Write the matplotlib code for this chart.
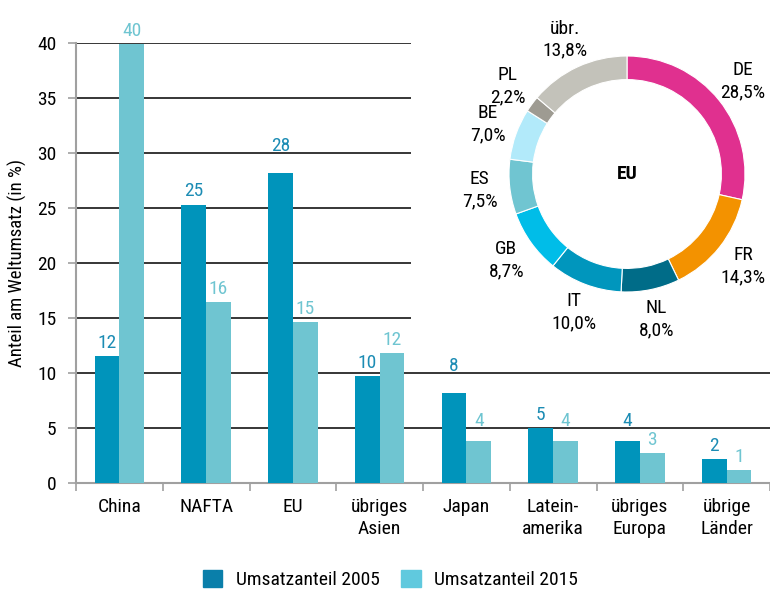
import matplotlib
matplotlib.use("Agg")
import matplotlib.pyplot as plt
import numpy as np
from matplotlib.patches import Patch

plt.rcParams['font.family'] = ['Roboto Condensed', 'DejaVu Sans Condensed', 'Liberation Sans Narrow', 'Roboto', 'DejaVu Sans']

# ---- data ----
categories = ["China", "NAFTA", "EU", "übriges\nAsien", "Japan", "Latein-\namerika", "übriges\nEuropa", "übrige\nLänder"]
share_2005 = [11.55, 25.3, 28.2, 9.75, 8.2, 5.0, 3.8, 2.2]
share_2015 = [39.9, 16.45, 14.6, 11.8, 3.8, 3.8, 2.7, 1.2]
labels_2005 = ["12", "25", "28", "10", "8", "5", "4", "2"]
labels_2015 = ["40", "16", "15", "12", "4", "4", "3", "1"]
series_names = ["Umsatzanteil 2005", "Umsatzanteil 2015"]
y_ticks = [0, 5, 10, 15, 20, 25, 30, 35, 40]

eu_countries = ["DE", "FR", "NL", "IT", "GB", "ES", "BE", "PL", "übr."]
eu_shares = [28.5, 14.3, 8.0, 10.0, 8.7, 7.5, 7.0, 2.2, 13.8]
eu_share_labels = ["28,5%", "14,3%", "8,0%", "10,0%", "8,7%", "7,5%", "7,0%", "2,2%", "13,8%"]

# ---- styles ----
c2005 = "#0094BB"
c2015 = "#6FC5D1"
leg2005 = "#0A7FAA"
leg2015 = "#60C9DE"
eu_colors = ["#E0308F", "#F39200", "#006C88", "#0096BD", "#00BDE8",
             "#70C5D1", "#B2EAFA", "#9E9B92", "#C3C2BA"]
gray = "#A0A0A0"
fs = 14

W, H = 770, 589
fig = plt.figure(figsize=(W / 100, H / 100), dpi=100)

ax_l, ax_b, ax_t = 76, 483, 43
ax = fig.add_axes([ax_l / W, (H - ax_b) / H, 1 - ax_l / W, (ax_b - ax_t) / H])

x = np.arange(len(categories))
bw = 0.285
b1 = ax.bar(x - bw / 2, share_2005, bw, color=c2005, zorder=3)
b2 = ax.bar(x + bw / 2, share_2015, bw, color=c2015, zorder=3)

grid_vals = y_ticks[1:]


def label_y(v):
    c = v + 1.2
    for g in grid_vals:
        if abs(c - g) < 0.65:
            c = g + 0.65
    return c


for bars, labs, col in ((b1, labels_2005, "#1C8CB4"), (b2, labels_2015, c2015)):
    for rect, lab in zip(bars, labs):
        ax.text(rect.get_x() + rect.get_width() / 2, label_y(rect.get_height()), lab,
                ha="center", va="center", color=col, fontsize=fs, zorder=4)

slot = 87.8
ax.set_xlim(-0.5, -0.5 + (W - ax_l) / slot)
ax.set_ylim(0, 40)
ax.set_yticks(y_ticks)
ax.set_yticklabels([str(v) for v in y_ticks], fontsize=fs)
for v in grid_vals:
    ax.axhline(v, color="black", lw=1.1, zorder=1)

ax.set_xticks(np.arange(len(categories) + 1) - 0.5)
ax.set_xticklabels([])
ax.set_xticks(x, minor=True)
ax.set_xticklabels(categories, minor=True, fontsize=fs, linespacing=1.3)
ax.tick_params(axis="x", which="minor", length=0, pad=11)
ax.tick_params(axis="x", which="major", length=6, color=gray, width=1.2, direction="out")
ax.tick_params(axis="y", length=6, color=gray, width=1.2, pad=8)

for s in ["top", "right"]:
    ax.spines[s].set_visible(False)
for s in ["left", "bottom"]:
    ax.spines[s].set_color(gray)
    ax.spines[s].set_linewidth(1.5)

ax.set_ylabel("Anteil am Weltumsatz (in %)", fontsize=fs - 0.5)
ax.yaxis.set_label_coords((27 - ax_l) / (W - ax_l), 0.5)

handles = [Patch(color=leg2005), Patch(color=leg2015)]
fig.legend(handles, series_names, loc="lower center", bbox_to_anchor=(0.507, -0.03),
           ncol=2, frameon=False, fontsize=fs, handlelength=1.0, handleheight=1.0,
           columnspacing=1.1, handletextpad=0.7)

# ---- donut inset ----
bx0, by1 = 411, 340
ax2 = fig.add_axes([bx0 / W, (H - by1) / H, (W - bx0) / W, by1 / H])
cx, cy, R = 627 - bx0, by1 - 174, 118
wedges, _ = ax2.pie(eu_shares, colors=eu_colors, startangle=90, counterclock=False,
                    radius=R, center=(cx, cy),
                    wedgeprops=dict(width=R * 0.2, edgecolor="white", linewidth=0.8))
ax2.set_xlim(0, W - bx0)
ax2.set_ylim(0, by1)
ax2.set_frame_on(True)
ax2.set_facecolor("white")
for s in ax2.spines.values():
    s.set_visible(False)
ax2.set_xticks([])
ax2.set_yticks([])
ax2.set_zorder(5)

rl = R * 1.255
for w, name, pct in zip(wedges, eu_countries, eu_share_labels):
    ang = np.deg2rad((w.theta1 + w.theta2) / 2)
    ax2.text(cx + rl * np.cos(ang), cy + rl * np.sin(ang), f"{name}\n{pct}",
             ha="center", va="center", fontsize=fs, linespacing=1.3, clip_on=False)
ax2.text(cx, cy, "EU", ha="center", va="center", fontsize=fs, fontweight="bold")

fig.savefig("out.png", dpi=100)
